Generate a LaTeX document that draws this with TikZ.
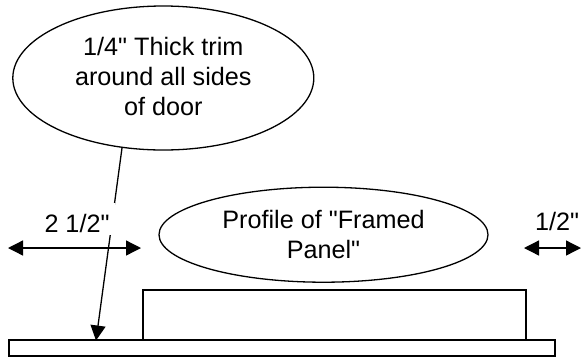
\documentclass[tikz,border=0pt]{standalone}
\usepackage{fontspec}
\setmainfont[Ligatures=TeXOff]{Liberation Sans}
\usetikzlibrary{shapes.geometric,arrows.meta}
\tikzset{
  outline/.style={draw=black,line width=1.3pt},
  oval/.style={outline,ellipse,inner sep=0pt,align=center},
  plate/.style={outline,rectangle,inner sep=0pt},
  lbl/.style={inner sep=0pt,anchor=base},
  dimarrow/.style={line width=1.3pt,{Triangle[length=15pt,width=15pt]}-{Triangle[length=15pt,width=15pt]}},
  leader/.style={line width=1.3pt,-{Triangle[length=15pt,width=15pt]}}
}
\begin{document}
\begin{tikzpicture}[x=1pt,y=-1pt,font=\fontsize{25.2}{30}\selectfont]
\useasboundingbox (0,0) rectangle (581,360);
\node[oval,minimum width=301pt,minimum height=144pt] (trim) at (163.3,78) {1/4" Thick trim\\around all sides\\of door\rule[-4pt]{0pt}{4pt}};
\node[oval,minimum width=329pt,minimum height=95pt] (profile) at (323.5,234.7) {Profile of "Framed\\Panel"};
\node[plate,minimum width=546pt,minimum height=16pt] (base) at (282,348) {};
\node[plate,minimum width=383pt,minimum height=50pt] (panel) at (334.5,315) {};
\coordinate (leadstart) at (122,148);
\coordinate (leadend) at (96,340.5);
\draw[leader] (leadstart) -- (leadend);
\node[lbl,fill=white,minimum width=76pt,text height=29pt,text depth=3pt] (wide) at (77,232) {2 1/2"};
\node[lbl] (narrow) at (557,230) {1/2"};
\coordinate (wl) at (8,248);
\coordinate (wr) at (141,248);
\coordinate (nl) at (524,248);
\coordinate (nr) at (581,248);
\draw[dimarrow] (wl) -- (wr);
\draw[dimarrow] (nl) -- (nr);
\end{tikzpicture}
\end{document}
